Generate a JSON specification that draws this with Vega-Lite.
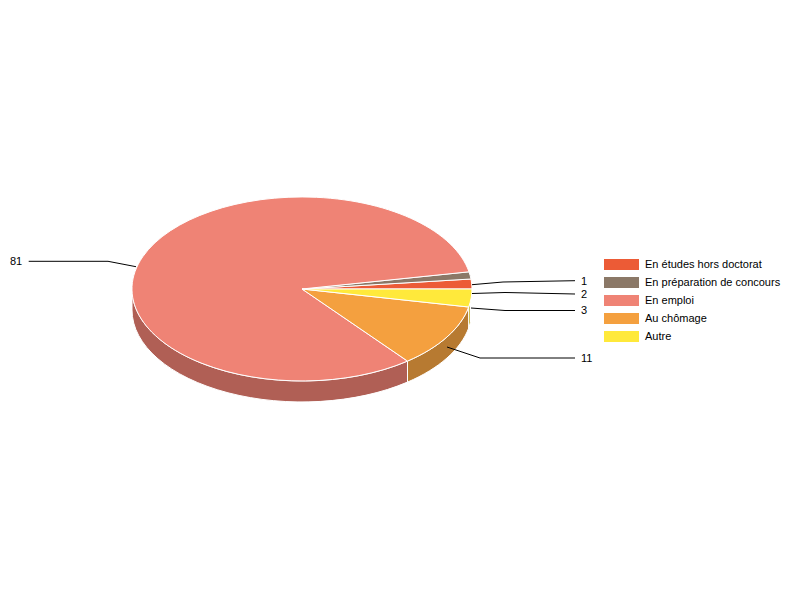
{
  "$schema": "https://vega.github.io/schema/vega-lite/v6.json",
  "width": 800,
  "height": 600,
  "padding": 0,
  "autosize": "none",
  "background": "white",
  "config": {"view": {"stroke": null}, "font": "Liberation Sans"},
  "data": {
    "values": [
      {"category": "En études hors doctorat", "value": 2},
      {"category": "En préparation de concours", "value": 1},
      {"category": "En emploi", "value": 81},
      {"category": "Au chômage", "value": 11},
      {"category": "Autre", "value": 3}
    ]
  },
  "layer": [
    {
      "transform": [{"filter": {"field": "category", "oneOf": ["En emploi", "Au chômage", "Autre"]}}],
      "mark": {"type": "point", "filled": true, "opacity": 1, "size": 4, "stroke": "white", "strokeWidth": 1, "clip": false},
      "encoding": {
        "x": {"datum": 0, "type": "quantitative", "scale": {"domain": [-302, 498], "nice": false, "zero": false}, "axis": null},
        "y": {"datum": 0, "type": "quantitative", "scale": {"domain": [-311, 289], "nice": false, "zero": false}, "axis": null},
        "color": {
          "field": "category",
          "type": "nominal",
          "scale": {"domain": ["En emploi", "Au chômage", "Autre"], "range": ["#b05f55", "#b77a31", "#c2ad2c"]},
          "legend": null
        },
        "shape": {
          "field": "category",
          "type": "nominal",
          "scale": {
            "domain": ["En emploi", "Au chômage", "Autre"],
            "range": [
              "M105.5,72.1 A170,92 0 0 1 -170,0 V21 A170,92 0 0 0 105.5,93.1 Z",
              "M166.7,18 A170,92 0 0 1 105.5,72.1 V93.1 A170,92 0 0 0 166.7,39 Z",
              "M168.5,12.3 A170,92 0 0 1 166.7,18 V39 A170,92 0 0 0 168.5,33.3 Z"
            ]
          },
          "legend": null
        }
      }
    },
    {
      "mark": {"type": "point", "filled": true, "opacity": 1, "size": 4, "stroke": "white", "strokeWidth": 1, "clip": false},
      "encoding": {
        "x": {"datum": 0, "type": "quantitative", "scale": {"domain": [-302, 498], "nice": false, "zero": false}, "axis": null},
        "y": {"datum": 0, "type": "quantitative", "scale": {"domain": [-311, 289], "nice": false, "zero": false}, "axis": null},
        "color": {
          "field": "category",
          "type": "nominal",
          "scale": {
            "domain": ["En études hors doctorat", "En préparation de concours", "En emploi", "Au chômage", "Autre"],
            "range": ["#ec5b36", "#8b7867", "#ef8375", "#f4a03f", "#ffe93b"]
          },
          "legend": {
            "orient": "none",
            "legendX": 616,
            "legendY": 259,
            "title": null,
            "symbolType": "M-17.5,-5.5H17.5V5.5H-17.5Z",
            "symbolSize": 4,
            "symbolStrokeWidth": 0,
            "symbolOpacity": 1,
            "labelOffset": 18,
            "labelFontSize": 11,
            "labelFont": "Liberation Sans",
            "labelColor": "black",
            "labelLimit": 300,
            "rowPadding": 6,
            "padding": 0
          }
        },
        "shape": {
          "field": "value",
          "type": "nominal",
          "scale": {
            "domain": [2, 1, 81, 11, 3],
            "range": [
              "M0,0 L169,-10 A170,92 0 0 1 170,0 Z",
              "M0,0 L167,-17.2 A170,92 0 0 1 169,-10 Z",
              "M0,0 L105.5,72.1 A170,92 0 1 1 167,-17.2 Z",
              "M0,0 L166.7,18 A170,92 0 0 1 105.5,72.1 Z",
              "M0,0 L170,0 A170,92 0 0 1 166.7,18 Z"
            ]
          },
          "legend": null
        }
      }
    },
    {
      "mark": {"type": "point", "filled": false, "opacity": 1, "size": 4, "color": "black", "strokeWidth": 1, "clip": false},
      "encoding": {
        "x": {"datum": 0, "type": "quantitative", "scale": {"domain": [-302, 498], "nice": false, "zero": false}, "axis": null},
        "y": {"datum": 0, "type": "quantitative", "scale": {"domain": [-311, 289], "nice": false, "zero": false}, "axis": null},
        "shape": {
          "field": "value",
          "type": "nominal",
          "scale": {
            "domain": [1, 2, 3, 11, 81],
            "range": [
              "M170,-4.3 L201,-7 L273,-8.3",
              "M170,4.5 L203,3.5 L273,5",
              "M169,19 L203,21.5 L273,21.5",
              "M145,58 L178,69 L273,69",
              "M-166,-22.3 L-194,-27.7 L-273.3,-27.7"
            ]
          },
          "legend": null
        }
      }
    },
    {
      "mark": {"type": "text", "align": "left", "baseline": "middle", "fontSize": 11, "font": "Liberation Sans", "color": "black"},
      "encoding": {
        "x": {"field": "value", "type": "quantitative", "scale": {"domain": [1, 2, 3, 11, 81], "range": [581, 581, 581, 581, 10], "nice": false, "zero": false}, "axis": null},
        "y": {"field": "value", "type": "quantitative", "scale": {"domain": [1, 2, 3, 11, 81], "range": [282, 295, 311, 359, 262], "nice": false, "zero": false}, "axis": null},
        "text": {"field": "value", "type": "nominal"}
      }
    }
  ],
  "resolve": {"scale": {"x": "independent", "y": "independent", "color": "independent", "shape": "independent"}}
}
